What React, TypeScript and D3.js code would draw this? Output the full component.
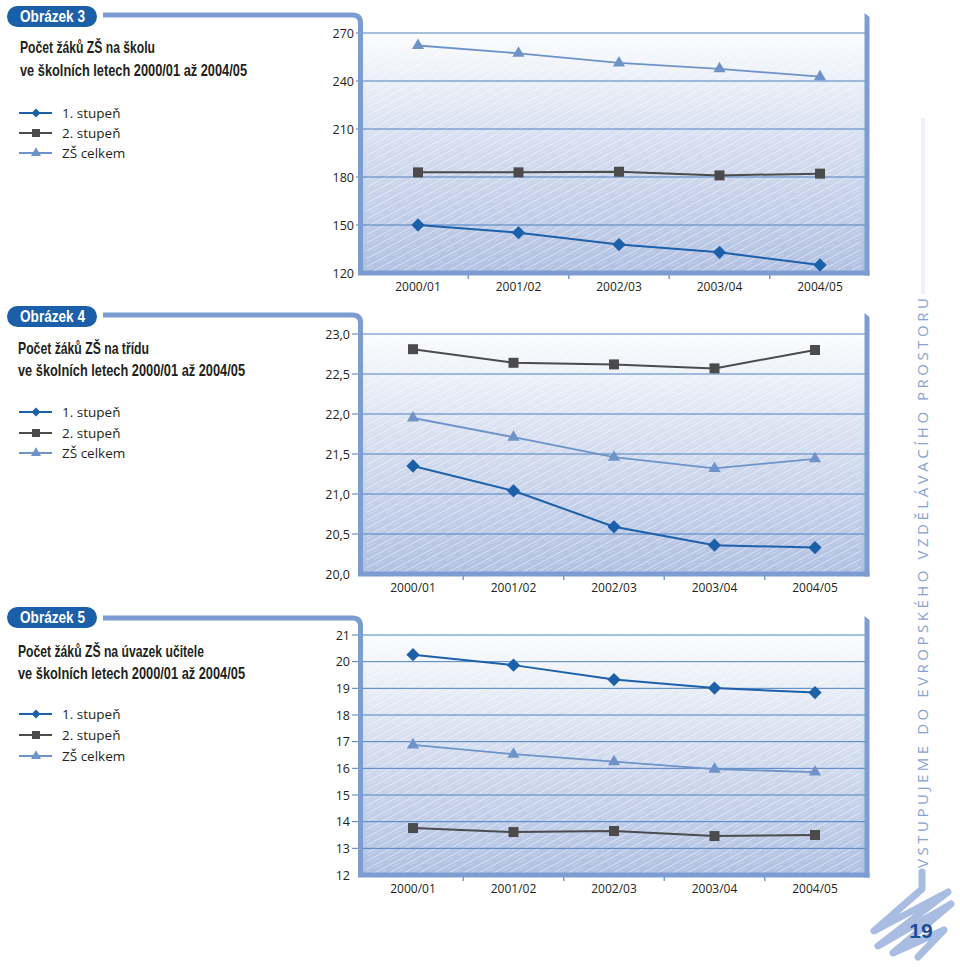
import React from "react";
import * as d3 from "d3";

// ---------- DATA ----------
const CATEGORIES = ["2000/01", "2001/02", "2002/03", "2003/04", "2004/05"];
const SERIES_NAMES = ["1. stupeň", "2. stupeň", "ZŠ celkem"];

// Obrázek 3 – žáků na školu
const SCHOOL_FIRST = [150.0, 145.2, 137.8, 132.9, 125.0];
const SCHOOL_SECOND = [182.9, 182.9, 183.3, 181.0, 182.1];
const SCHOOL_TOTAL = [262.2, 257.3, 251.3, 247.6, 242.7];
const SCHOOL_TICKS = [120, 150, 180, 210, 240, 270];

// Obrázek 4 – žáků na třídu
const CLASS_FIRST = [21.35, 21.04, 20.59, 20.36, 20.33];
const CLASS_SECOND = [22.81, 22.64, 22.62, 22.57, 22.8];
const CLASS_TOTAL = [21.95, 21.71, 21.46, 21.32, 21.44];
const CLASS_TICKS = [20.0, 20.5, 21.0, 21.5, 22.0, 22.5, 23.0];

// Obrázek 5 – žáků na úvazek učitele
const TEACHER_FIRST = [20.26, 19.87, 19.33, 19.01, 18.84];
const TEACHER_SECOND = [13.76, 13.61, 13.65, 13.46, 13.5];
const TEACHER_TOTAL = [16.88, 16.53, 16.25, 15.97, 15.86];
const TEACHER_TICKS = [12, 13, 14, 15, 16, 17, 18, 19, 20, 21];

const TITLE_LINE2 = "ve školních letech 2000/01 až 2004/05";
const SIDE_TEXT = "VSTUPUJEME DO EVROPSKÉHO VZDĚLÁVACÍHO PROSTORU";
const PAGE_NUMBER = "19";

// ---------- STYLE ----------
const FRAME = "#7d9dd2";
const GRID = "#4f80bf";
const PILL = "#1b5fa8";
const TEXT = "#231f20";
const TITLE_FONT = "'Liberation Sans Narrow', 'Liberation Sans', Arial, sans-serif";
const BODY_FONT = "'Open Sans', 'Noto Sans', sans-serif";

const SERIES_STYLE = [
  { color: "#1c60aa", type: "diamond", width: 2, size: 88, legendSize: 40 },
  { color: "#4b4b4d", type: "square", width: 2, size: 100, legendSize: 64 },
  { color: "#6e93c9", type: "triangle", width: 1.8, size: 64, legendSize: 44 },
];

const commaFmt = (d: number) => d3.format(".1f")(d).replace(".", ",");
const intFmt = (d: number) => String(d);

const CHARTS = [
  {
    id: "c3", pill: "Obrázek 3", title1: "Počet žáků ZŠ na školu", tw: [135, 227], tx: 20,
    pillY: 6, topBarY: 15, yRange: [273, 33], domain: [120, 270], ticks: SCHOOL_TICKS, fmt: intFmt,
    labelX: 354, xRange: [418, 820], titleY: [53, 76], legendY: [113, 133, 153],
    series: [SCHOOL_FIRST, SCHOOL_SECOND, SCHOOL_TOTAL],
  },
  {
    id: "c4", pill: "Obrázek 4", title1: "Počet žáků ZŠ na třídu", tw: [131, 227], tx: 18,
    pillY: 306, topBarY: 315, yRange: [574, 334], domain: [20, 23], ticks: CLASS_TICKS, fmt: commaFmt,
    labelX: 350, xRange: [413, 815], titleY: [354, 376], legendY: [412, 433, 453],
    series: [CLASS_FIRST, CLASS_SECOND, CLASS_TOTAL],
  },
  {
    id: "c5", pill: "Obrázek 5", title1: "Počet žáků ZŠ na úvazek učitele", tw: [186, 227], tx: 18,
    pillY: 607, topBarY: 618, yRange: [875, 635], domain: [12, 21], ticks: TEACHER_TICKS, fmt: intFmt,
    labelX: 350, xRange: [413, 815], titleY: [657, 679], legendY: [714, 735, 756],
    series: [TEACHER_FIRST, TEACHER_SECOND, TEACHER_TOTAL],
  },
];

const LEFT_BAR_X = 360.5;
const RIGHT_BAR_X = 867;

function symbolPath(type: string, size: number) {
  const t = type === "triangle" ? d3.symbolTriangle : d3.symbolSquare;
  return d3.symbol().type(t).size(size)() as string;
}

function Marker({ type, size, color, x, y }: any) {
  const rot = type === "diamond" ? 45 : 0;
  return (
    <path d={symbolPath(type, size)} fill={color}
      transform={`translate(${x},${y}) rotate(${rot})`} />
  );
}

function Chart({ cfg }: any) {
  const x = d3.scalePoint<string>().domain(CATEGORIES).range(cfg.xRange as [number, number]);
  const y = d3.scaleLinear().domain(cfg.domain).range(cfg.yRange);
  const bottom = cfg.yRange[0];
  const top = cfg.yRange[1];
  const step = x.step();
  const line = d3.line<number>().x((_, i) => x(CATEGORIES[i]) as number).y((d) => y(d));
  const tb = cfg.topBarY;

  return (
    <g>
      {/* pill */}
      <rect x={7} y={cfg.pillY} width={90} height={21} rx={10.5} fill={PILL} />
      <text x={20} y={cfg.pillY + 16} fill="#fff" fontFamily={TITLE_FONT} fontWeight={700}
        fontSize={16} textLength={65} lengthAdjust="spacingAndGlyphs">{cfg.pill}</text>
      {/* titles */}
      <text x={cfg.tx} y={cfg.titleY[0]} fill={TEXT} fontFamily={TITLE_FONT} fontWeight={700}
        fontSize={17} textLength={cfg.tw[0]} lengthAdjust="spacingAndGlyphs">{cfg.title1}</text>
      <text x={cfg.tx} y={cfg.titleY[1]} fill={TEXT} fontFamily={TITLE_FONT} fontWeight={700}
        fontSize={17} textLength={cfg.tw[1]} lengthAdjust="spacingAndGlyphs">{TITLE_LINE2}</text>
      {/* legend */}
      {SERIES_NAMES.map((name, i) => {
        const st = SERIES_STYLE[i];
        const ly = cfg.legendY[i];
        return (
          <g key={name}>
            <line x1={19} x2={52} y1={ly} y2={ly} stroke={st.color} strokeWidth={1.8} />
            <Marker type={st.type} size={st.legendSize} color={st.color} x={36} y={ly} />
            <text x={62} y={ly + 5} fill={TEXT} fontFamily={BODY_FONT} fontSize={13.5}>{name}</text>
          </g>
        );
      })}
      {/* plot background */}
      <rect x={LEFT_BAR_X + 2} y={top} width={RIGHT_BAR_X - LEFT_BAR_X - 4} height={bottom - top}
        fill="url(#bgGrad)" />
      <rect x={LEFT_BAR_X + 6} y={top + 3} width={RIGHT_BAR_X - LEFT_BAR_X - 12} height={bottom - top - 4}
        fill="url(#hatch)" />
      {/* grid + y labels */}
      {cfg.ticks.map((t: number) => (
        <g key={t}>
          {t !== cfg.domain[0] && (
            <line x1={cfg.labelX + 2} x2={RIGHT_BAR_X - 2} y1={y(t)} y2={y(t)} stroke={GRID} strokeWidth={1} />
          )}
          <text x={cfg.labelX} y={y(t) + 4.5} textAnchor="end" fill={TEXT} fontFamily={BODY_FONT}
            fontSize={12.5}>{cfg.fmt(t)}</text>
        </g>
      ))}
      {/* frame */}
      <path d={`M103,${tb} L${LEFT_BAR_X - 8},${tb} Q${LEFT_BAR_X},${tb} ${LEFT_BAR_X},${tb + 8} L${LEFT_BAR_X},${bottom}`}
        fill="none" stroke={FRAME} strokeWidth={5} />
      <path d={`M${RIGHT_BAR_X - 2.5},${tb - 2} L${RIGHT_BAR_X + 2.5},${tb + 2} L${RIGHT_BAR_X + 2.5},${bottom + 2.5} L${RIGHT_BAR_X - 2.5},${bottom + 2.5} Z`}
        fill={FRAME} />
      <line x1={LEFT_BAR_X - 2.5} x2={RIGHT_BAR_X + 2.5} y1={bottom} y2={bottom} stroke={FRAME} strokeWidth={5} />
      {CATEGORIES.slice(1).map((c) => {
        const mx = (x(c) as number) - step / 2;
        return <line key={c} x1={mx} x2={mx} y1={bottom} y2={bottom + 6} stroke={FRAME} strokeWidth={1.5} />;
      })}
      {/* x labels */}
      {CATEGORIES.map((c) => (
        <text key={c} x={x(c)} y={bottom + 18} textAnchor="middle" fill={TEXT} fontFamily={BODY_FONT}
          fontSize={12}>{c}</text>
      ))}
      {/* series */}
      {cfg.series.map((vals: number[], i: number) => {
        const st = SERIES_STYLE[i];
        return (
          <g key={i}>
            <path d={line(vals) as string} fill="none" stroke={st.color} strokeWidth={st.width} />
            {vals.map((v, j) => (
              <Marker key={j} type={st.type} size={st.size} color={st.color}
                x={x(CATEGORIES[j])} y={y(v)} />
            ))}
          </g>
        );
      })}
    </g>
  );
}

export default function App() {
  return (
    <svg width={960} height={967} style={{ position: "absolute", left: 0, top: 0, background: "#fff" }}>
      <defs>
        <linearGradient id="bgGrad" x1="0" y1="0" x2="0" y2="1">
          <stop offset="0" stopColor="#fbfcfe" />
          <stop offset="0.35" stopColor="#dde4f2" />
          <stop offset="1" stopColor="#b0c0e2" />
        </linearGradient>
        <pattern id="hatch" patternUnits="userSpaceOnUse" width={16} height={7}
          patternTransform="rotate(-28)">
          <line x1={0} x2={16} y1={1.5} y2={1.5} stroke="#fff" strokeOpacity={0.55} strokeWidth={0.9} />
          <line x1={3} x2={13} y1={4.5} y2={4.5} stroke="#fff" strokeOpacity={0.35} strokeWidth={0.7} />
        </pattern>
      </defs>
      {CHARTS.map((c) => <Chart key={c.id} cfg={c} />)}
      {/* side decoration */}
      <rect x={921} y={118} width={4} height={176} fill="#eef1f9" />
      <text transform="translate(928,868) rotate(-90)" fill="#86a2d5" fontFamily={BODY_FONT}
        fontSize={15} textLength={570} lengthAdjust="spacing">{SIDE_TEXT}</text>
      <path d="M922,872 L922,889 L874,931 L948,892 L878,946 L951,904 L893,953 L944,930 L918,957"
        fill="none" stroke="#a9bde3" strokeWidth={7} strokeLinecap="round" strokeLinejoin="round" />
      <text x={921} y={938} textAnchor="middle" fill="#1b4f95" fontFamily={TITLE_FONT} fontWeight={700}
        fontSize={21}>{PAGE_NUMBER}</text>
    </svg>
  );
}
